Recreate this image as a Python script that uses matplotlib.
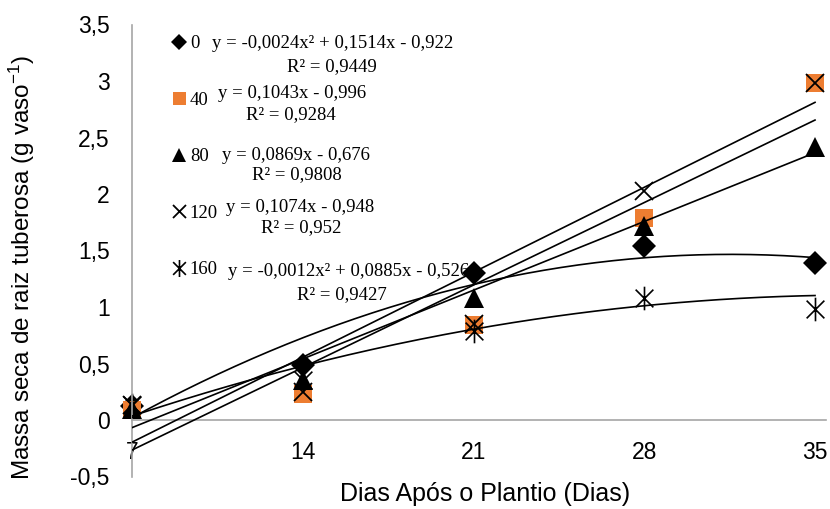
import numpy as np
import matplotlib
matplotlib.use("Agg")
import matplotlib.pyplot as plt
from matplotlib.path import Path
from matplotlib.lines import Line2D

# -----------------------------
# DATA
# -----------------------------
dias = [7, 14, 21, 28, 35]
doses = ["0", "40", "80", "120", "160"]

massa_0 = [0.12, 0.49, 1.30, 1.54, 1.39]
massa_40 = [0.09, 0.23, 0.84, 1.79, 2.98]
massa_80 = [0.10, 0.35, 1.08, 1.72, 2.42]
massa_120 = [0.13, 0.25, 0.85, 2.03, 2.98]
massa_160 = [0.13, 0.35, 0.79, 1.08, 0.98]

# trend line coefficients (a2, a1, a0) and R²
coef_0 = [-0.0024, 0.1514, -0.922]
coef_40 = [0.0, 0.1043, -0.996]
coef_80 = [0.0, 0.0869, -0.676]
coef_120 = [0.0, 0.1074, -0.948]
coef_160 = [-0.0012, 0.0885, -0.526]

eq_texts = ["y = -0,0024x² + 0,1514x - 0,922",
            "y = 0,1043x - 0,996",
            "y = 0,0869x - 0,676",
            "y = 0,1074x - 0,948",
            "y = -0,0012x² + 0,0885x - 0,526"]
r2_texts = ["R² = 0,9449", "R² = 0,9284", "R² = 0,9808", "R² = 0,952", "R² = 0,9427"]

y_ticks = [-0.5, 0, 0.5, 1, 1.5, 2, 2.5, 3, 3.5]

# -----------------------------
# STYLE
# -----------------------------
plt.rcParams["font.family"] = ["Liberation Sans", "DejaVu Sans"]
plt.rcParams["mathtext.default"] = "regular"
SERIF = ["Liberation Serif", "DejaVu Serif"]
ORANGE = "#ED7D31"
GRAY = "#A6A6A6"

# asterisk marker: vertical bar plus an X
star = Path([(0, -1), (0, 1), (-0.75, -0.75), (0.75, 0.75), (-0.75, 0.75), (0.75, -0.75)],
            [Path.MOVETO, Path.LINETO] * 3)

series = [
    (massa_0, coef_0, dict(marker="D", color="black", markersize=12, markeredgewidth=0)),
    (massa_40, coef_40, dict(marker="s", color=ORANGE, markersize=13, markeredgewidth=0)),
    (massa_80, coef_80, dict(marker="^", color="black", markersize=14, markeredgewidth=0)),
    (massa_120, coef_120, dict(marker="x", color="black", markersize=13, markeredgewidth=1.3)),
    (massa_160, coef_160, dict(marker=star, color="black", markersize=17, markeredgewidth=1.2,
                               markerfacecolor="none")),
]

# -----------------------------
# FIGURE
# -----------------------------
fig = plt.figure(figsize=(8.3, 5.09), dpi=100)
ax = fig.add_axes([132 / 830, 1 - 476.5 / 509, (826 - 132) / 830, 452 / 509])

xs = np.linspace(7, 35, 200)
handles = []
for vals, coef, st in series:
    ax.plot(dias, vals, linestyle="none", zorder=2, clip_on=False, **st)
    fit = coef[0] * xs ** 2 + coef[1] * xs + coef[2]
    ax.plot(xs, fit, color="black", linewidth=1.2, zorder=3)
    hs = dict(st)
    hs["markersize"] = st["markersize"] * 0.72
    handles.append(Line2D([], [], linestyle="none", **hs))

ax.set_xlim(7, 35.45)
ax.set_ylim(-0.5, 3.5)
ax.set_xticks(dias)
ax.set_xticklabels([str(d) for d in dias])
ax.set_yticks(y_ticks)
ax.set_yticklabels([("%g" % v).replace(".", ",") for v in y_ticks])

for s in ["top", "right"]:
    ax.spines[s].set_visible(False)
ax.spines["bottom"].set_position(("data", 0))
ax.spines["bottom"].set_color(GRAY)
ax.spines["left"].set_color(GRAY)
ax.spines["bottom"].set_linewidth(1.2)
ax.spines["left"].set_linewidth(1.2)
ax.tick_params(axis="x", length=0, pad=15, labelsize=16.5)
ax.tick_params(axis="y", length=0, pad=16, labelsize=16.5)

fig.text(22 / 830, 1 - 267 / 509, "Massa seca de raiz tuberosa (g vaso$^{-1}$)",
         rotation=90, ha="center", va="center", fontsize=17.5)
fig.text(485 / 830, 1 - 494 / 509, "Dias Após o Plantio (Dias)",
         ha="center", va="center", fontsize=18)

# legend with dose names
ax.legend(handles, doses, loc="upper left", bbox_to_anchor=(172 / 830, 1 - 35 / 509),
          bbox_transform=fig.transFigure, frameon=False, borderpad=0, borderaxespad=0,
          handlelength=0.7, handletextpad=0.25, labelspacing=2.1,
          prop=dict(family=SERIF, size=13.5))

# trend line equations
eq_pos = [(212, 43), (218, 93), (222, 155), (226, 208), (228, 272)]
r2_pos = [(332, 67), (291, 115), (297, 175), (301, 228), (342, 295)]
for txt, (x, y) in zip(eq_texts, eq_pos):
    fig.text(x / 830, 1 - y / 509, txt, ha="left", va="center", family=SERIF, fontsize=13.5)
for txt, (x, y) in zip(r2_texts, r2_pos):
    fig.text(x / 830, 1 - y / 509, txt, ha="center", va="center", family=SERIF, fontsize=13.5)

fig.savefig("out.png", dpi=100)
